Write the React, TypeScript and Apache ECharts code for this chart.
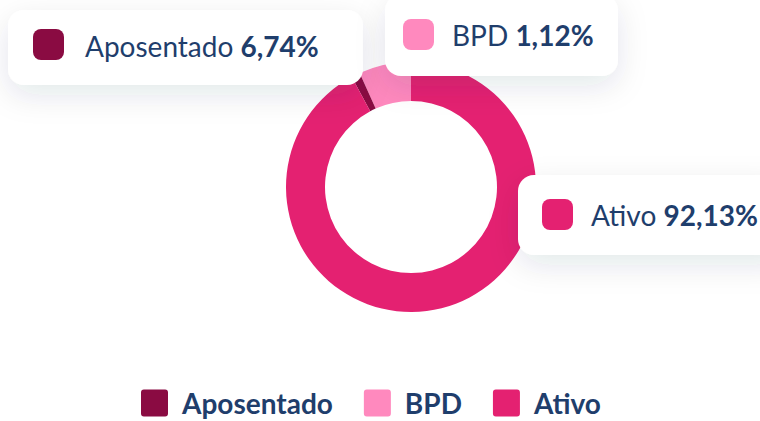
import React, { useEffect, useRef } from "react";
import * as echarts from "echarts";

// ---- data ----
const categories = ["Aposentado", "BPD", "Ativo"];
const values = [6.74, 1.12, 92.13];
const legendColors = ["#8A0B42", "#FF89BE", "#E42171"];
// slice colours as they appear in the ring
const sliceColors = ["#FF89BE", "#8A0B42", "#E42171"];

// ---- layout (not data) ----
const TEXT = "#1F3E6C";
const FONT = "Lato";
const boxes = [
  { x: 8, y: 10, w: 355, h: 75, mx: 33, my: 29, tx: 85, ty: 46 },
  { x: 385, y: -5, w: 233, h: 81, mx: 403, my: 19, tx: 452, ty: 35 },
  { x: 518, y: 175, w: 270, h: 80, mx: 542, my: 199, tx: 591, ty: 215 },
];

const fmt = (v: number) => v.toFixed(2).replace(".", ",") + "%";

export default function App() {
  const ref = useRef<HTMLDivElement>(null);
  useEffect(() => {
    if (!ref.current) return;
    const chart = echarts.init(ref.current, undefined, { renderer: "svg" });
    const graphics: any[] = [];
    categories.forEach((name, i) => {
      const b = boxes[i];
      graphics.push({
        type: "rect",
        z: 100,
        shape: { x: b.x, y: b.y, width: b.w, height: b.h, r: 16 },
        style: {
          fill: "#ffffff",
          shadowBlur: 30,
          shadowOffsetY: 10,
          shadowColor: "rgba(20,40,80,0.11)",
        },
      });
      graphics.push({
        type: "rect",
        z: 101,
        shape: { x: b.mx, y: b.my, width: 31, height: 31, r: 8 },
        style: { fill: legendColors[i] },
      });
      graphics.push({
        type: "text",
        z: 101,
        x: b.tx,
        y: b.ty,
        style: {
          text: `{n|${name}\u00a0}{b|${fmt(values[i])}}`,
          verticalAlign: "middle",
          align: "left",
          rich: {
            n: { fontFamily: FONT, fontSize: 28, fontWeight: 400, fill: TEXT, color: TEXT },
            b: { fontFamily: FONT, fontSize: 28, fontWeight: 700, fill: TEXT, color: TEXT },
          },
        },
      });
    });

    const iconPath =
      "path://M3,0H25A3,3 0 0 1 28,3V25A3,3 0 0 1 25,28H3A3,3 0 0 1 0,25V3A3,3 0 0 1 3,0Z";

    chart.setOption({
      animation: false,
      legend: {
        left: 136,
        top: 384,
        itemWidth: 27,
        itemHeight: 27,
        itemGap: 31,
        icon: iconPath,
        data: categories.map((name, i) => ({
          name,
          itemStyle: { color: legendColors[i] },
        })),
        textStyle: {
          fontFamily: FONT,
          fontSize: 28,
          lineHeight: 26,
          fontWeight: 700,
          color: TEXT,
          padding: [0, 0, 0, 9],
        },
        selectedMode: false,
      },
      series: [
        {
          type: "pie",
          center: [411, 187],
          radius: [86, 125],
          startAngle: 90,
          clockwise: false,
          label: { show: false },
          labelLine: { show: false },
          emphasis: { disabled: true },
          itemStyle: { borderWidth: 0 },
          data: categories.map((name, i) => ({
            name,
            value: values[i],
            itemStyle: { color: sliceColors[i] },
          })),
        },
      ],
      graphic: graphics,
    });
    return () => chart.dispose();
  }, []);
  return (
    <div
      ref={ref}
      style={{ position: "fixed", left: 0, top: 0, width: 760, height: 421, background: "#fff" }}
    />
  );
}
